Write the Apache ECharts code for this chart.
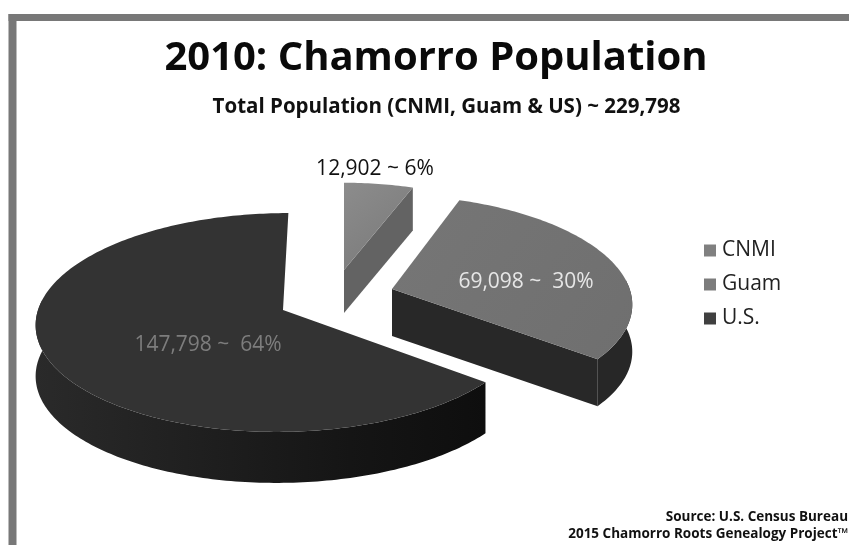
<!DOCTYPE html>
<html><head><meta charset="utf-8">
<style>html,body{margin:0;padding:0;background:#fff}#c{width:849px;height:545px}</style>
<script src="https://cdn.jsdelivr.net/npm/echarts@6/dist/echarts.min.js"></script>
</head><body><div id="c"></div>
<script>
const categories = ['CNMI', 'Guam', 'U.S.'];
const populations = [12902, 69098, 147798];
const percents = [6, 30, 64];
const labelJoins = ['~ ', '~  ', '~  '];
const titleText = '2010: Chamorro Population';
const subtitleText = 'Total Population (CNMI, Guam & US) ~ 229,798';
const sourceLines = ['Source: U.S. Census Bureau', '2015 Chamorro Roots Genealogy Project\u2122'];

// drawing style per slice
const looks = [
  {apex:[344,270], scale:.9,  shear:0,  depth:43, top:['#8c8c8c','#787878'], wall:'#666666', cut:'#636363', label:[375,169], text:'#111111'},
  {apex:[392,289], scale:.97, shear:-8, depth:47, top:['#767676','#6f6f6f'], wall:'#272727', cut:'#282828', label:[526,282], text:'#e6e6e6'},
  {apex:[283,310], scale:1,   shear:6,  depth:51, top:['#333333','#333333'], wall:{type:'linear',x:0,y:0,x2:1,y2:0,colorStops:[{offset:0,color:'#2a2a2a'},{offset:.7,color:'#151515'},{offset:1,color:'#0e0e0e'}]}, cut:'#222222', label:[208,345], text:'#7d7d7d'}
];
const A = 245, B = 108, K = 0.1141;
const total = populations.reduce((a,b)=>a+b,0);

function project(look, deg, drop){
  const t = deg*Math.PI/180, u = Math.sin(t), v = Math.cos(t), w = 1+K*v;
  return [look.apex[0]+(look.scale*A*u+look.shear*v)/w, look.apex[1]-look.scale*B*v/w+drop];
}
function sliceRender(idx){
  return function(params, api){
    const before = populations.slice(0,idx).reduce((a,b)=>a+b,0);
    const start = before/total*360, end = (before+api.value(0))/total*360;
    const look = looks[idx];
    const rim = [], wallTop = [], wallLow = [];
    const addRim = d => {
      rim.push(project(look,d,0));
      if(Math.cos(d*Math.PI/180) < 0.1){ wallTop.push(project(look,d,0)); wallLow.push(project(look,d,look.depth)); }
    };
    for(let d=start; d<end; d+=1) addRim(d);
    addRim(end);
    const ax = look.apex, axLow = [ax[0],ax[1]+look.depth];
    const children = [];
    if(wallTop.length) children.push({type:'polygon', shape:{points:wallTop.concat(wallLow.slice().reverse())}, style:{fill:look.wall}});
    const s = Math.sin(start*Math.PI/180), e = Math.sin(end*Math.PI/180);
    const lowOf = d => project(look,d,look.depth);
    if(s < -1e-6) children.push({type:'polygon', shape:{points:[ax,rim[0],lowOf(start),axLow]}, style:{fill:look.cut}});
    if(e > 1e-6) children.push({type:'polygon', shape:{points:[ax,rim[rim.length-1],lowOf(end),axLow]}, style:{fill:look.cut}});
    children.push({type:'polygon', shape:{points:[ax].concat(rim)}, style:{fill:{type:'linear',x:0,y:0,x2:1,y2:1,colorStops:[{offset:0,color:look.top[0]},{offset:1,color:look.top[1]}]}}});
    children.push({type:'text', z2:5, style:{text:api.value(0).toLocaleString('en-US')+' '+labelJoins[idx]+percents[idx]+'%', x:look.label[0], y:look.label[1], align:'center', verticalAlign:'middle', fill:look.text, font:'21px "Open Sans"'}});
    return {type:'group', children};
  };
}
const legendColors = ['#808080','#7c7c7c','#404040'];
const sliceZ = [3,2,1];
const chart = echarts.init(document.getElementById('c'), null, {renderer:'canvas'});
chart.setOption({
  animation:false,
  backgroundColor:'#ffffff',
  title:[
    {text:titleText, left:431, top:34, textAlign:'center', textStyle:{fontFamily:'Open Sans', fontWeight:'bold', fontSize:40, color:'#0a0a0a'}},
    {text:subtitleText, left:441.5, top:92, textAlign:'center', textStyle:{fontFamily:'Open Sans', fontWeight:'bold', fontSize:20.5, color:'#111'}},
    {text:sourceLines[0], right:-4, top:505, textStyle:{fontFamily:'Open Sans', fontWeight:'bold', fontSize:13.5, color:'#111'}},
    {text:sourceLines[1], right:-4, top:522, textStyle:{fontFamily:'Open Sans', fontWeight:'bold', fontSize:13.5, color:'#111'}}
  ],
  legend:{orient:'vertical', left:699, top:235, itemGap:13, itemWidth:12, itemHeight:12, icon:'rect', data:categories, textStyle:{fontFamily:'Open Sans', fontSize:21, color:'#222', padding:[0,0,0,1]}},
  graphic:[
    {type:'rect', shape:{x:8.5,y:14,width:841,height:7}, style:{fill:'#787878'}},
    {type:'rect', shape:{x:8.5,y:14,width:8,height:531}, style:{fill:'#787878'}}
  ],
  series:categories.map((name,i)=>({
    type:'custom', name, coordinateSystem:'none', z:sliceZ[i], silent:true,
    itemStyle:{color:legendColors[i]},
    renderItem:sliceRender(i),
    encode:{value:0},
    data:[[populations[i]]]
  }))
});
</script></body></html>
